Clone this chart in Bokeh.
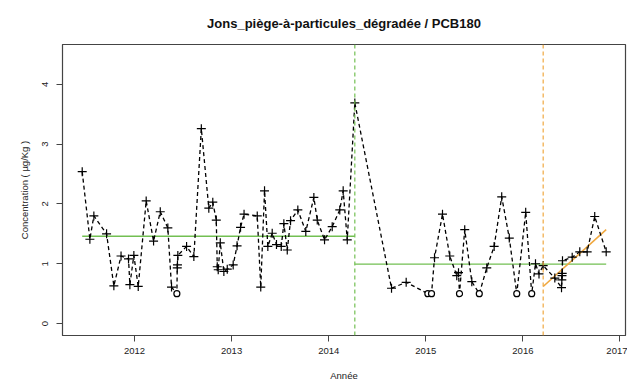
from bokeh.plotting import figure
from bokeh.models import Range1d, FixedTicker, Span, Title
from bokeh.embed import file_html
from bokeh.resources import INLINE

# ---- data ----
dates = [2011.461, 2011.540, 2011.581, 2011.712, 2011.787, 2011.861, 2011.938, 2011.952,
         2011.993, 2012.038, 2012.120, 2012.196, 2012.265, 2012.343, 2012.381, 2012.436,
         2012.440, 2012.442, 2012.446, 2012.536, 2012.611, 2012.688, 2012.765, 2012.806,
         2012.842, 2012.852, 2012.862, 2012.883, 2012.920, 2012.955, 2013.016, 2013.056,
         2013.092, 2013.128, 2013.264, 2013.300, 2013.339, 2013.373, 2013.418, 2013.462,
         2013.511, 2013.538, 2013.573, 2013.607, 2013.682, 2013.764, 2013.847, 2013.882,
         2013.957, 2014.036, 2014.114, 2014.149, 2014.191, 2014.269,
         2014.647, 2014.798, 2015.021, 2015.059, 2015.090, 2015.172, 2015.247, 2015.319,
         2015.337, 2015.347, 2015.401, 2015.474, 2015.551, 2015.628, 2015.704, 2015.782,
         2015.860, 2015.937, 2016.029, 2016.091, 2016.130, 2016.166, 2016.209,
         2016.329, 2016.398, 2016.401, 2016.403, 2016.405, 2016.408, 2016.508, 2016.586,
         2016.662, 2016.740, 2016.858]
values = [2.54, 1.41, 1.80, 1.50, 0.63, 1.13, 1.08, 0.65,
          1.14, 0.62, 2.05, 1.38, 1.87, 1.60, 0.61, 0.50,
          0.93, 0.98, 1.14, 1.29, 1.12, 3.26, 1.93, 2.03,
          1.73, 0.95, 0.90, 1.35, 0.87, 0.91, 0.98, 1.30,
          1.61, 1.83, 1.80, 0.61, 2.22, 1.29, 1.51, 1.32,
          1.29, 1.67, 1.23, 1.72, 1.90, 1.54, 2.11, 1.73,
          1.40, 1.62, 1.90, 2.22, 1.40, 3.69,
          0.59, 0.69, 0.50, 0.50, 1.10, 1.83, 1.13, 0.80,
          0.85, 0.50, 1.57, 0.70, 0.50, 0.93, 1.29, 2.12,
          1.43, 0.50, 1.86, 0.50, 1.00, 0.83, 0.97,
          0.76, 0.60, 0.73, 0.80, 0.84, 1.05, 1.11, 1.20,
          1.20, 1.79, 1.20]
# 1 = below quantification limit (drawn as open circle)
censored = [0, 0, 0, 0, 0, 0, 0, 0,
            0, 0, 0, 0, 0, 0, 0, 1,
            0, 0, 0, 0, 0, 0, 0, 0,
            0, 0, 0, 0, 0, 0, 0, 0,
            0, 0, 0, 0, 0, 0, 0, 0,
            0, 0, 0, 0, 0, 0, 0, 0,
            0, 0, 0, 0, 0, 0,
            0, 0, 1, 1, 0, 0, 0, 0,
            0, 1, 0, 0, 1, 0, 0, 0,
            0, 1, 0, 1, 0, 0, 0,
            0, 0, 0, 0, 0, 0, 0, 0,
            0, 0, 0]

# segment means (green) and final trend (orange)
seg_start = [2011.461, 2014.269]
seg_end = [2014.269, 2016.858]
seg_mean = [1.46, 0.995]
break_green = [2014.269]
break_orange = [2016.209]
trend_x = [2016.209, 2016.858]
trend_y = [0.62, 1.57]

x_ticks = [2012, 2013, 2014, 2015, 2016, 2017]
y_ticks = [0, 1, 2, 3, 4]

title_text = "Jons_piège-à-particules_dégradée / PCB180"
x_label = "Année"
y_label = "Concentration ( µg/Kg )"

FONT = "Liberation Sans"
GREEN = "#72bf52"
ORANGE = "#f0a840"

p = figure(width=627, height=383, output_backend="svg", toolbar_location=None,
           x_range=Range1d(2011.258, 2017.057), y_range=Range1d(-0.2, 4.667),
           min_border_left=62, min_border_right=2, min_border_top=44, min_border_bottom=47)
p.title = Title(text=title_text, align="center", text_font=FONT, text_font_size="13px",
                text_font_style="bold", text_color="#111111", standoff=27)
p.xgrid.visible = False
p.ygrid.visible = False
p.outline_line_color = "#444444"
p.outline_line_width = 1.2
p.background_fill_color = "white"
p.border_fill_color = "white"

for ax in (p.xaxis[0], p.yaxis[0]):
    ax.axis_line_color = "#444444"
    ax.major_tick_line_color = "#444444"
    ax.major_tick_out = 6
    ax.major_tick_in = 0
    ax.minor_tick_line_color = None
    ax.major_label_text_font = FONT
    ax.major_label_text_font_size = "9.5px"
    ax.major_label_text_color = "#222222"
    ax.axis_label_text_font = FONT
    ax.axis_label_text_font_size = "9.5px"
    ax.axis_label_text_font_style = "normal"
    ax.axis_label_text_color = "#222222"

p.xaxis.ticker = FixedTicker(ticks=x_ticks)
p.yaxis.ticker = FixedTicker(ticks=y_ticks)
p.xaxis.axis_label = x_label
p.yaxis.axis_label = y_label
p.xaxis.major_label_standoff = 6
p.xaxis.axis_label_standoff = 13
p.yaxis.major_label_standoff = 8
p.yaxis.axis_label_standoff = 10
p.yaxis.major_label_orientation = "vertical"

# mean segments
for x0, x1, m in zip(seg_start, seg_end, seg_mean):
    p.line([x0, x1], [m, m], line_color=GREEN, line_width=1.3)

# break lines
for b in break_green:
    p.add_layout(Span(location=b, dimension="height", line_color=GREEN,
                      line_dash="4 3", line_width=1.2))
for b in break_orange:
    p.add_layout(Span(location=b, dimension="height", line_color=ORANGE,
                      line_dash="4 3", line_width=1.2))

# trend
p.line(trend_x, trend_y, line_color=ORANGE, line_width=1.6)

# series
p.line(dates, values, line_color="black", line_dash="4 3", line_width=1.3)
qx = [d for d, c in zip(dates, censored) if not c]
qy = [v for v, c in zip(values, censored) if not c]
cx = [d for d, c in zip(dates, censored) if c]
cy = [v for v, c in zip(values, censored) if c]
p.scatter(qx, qy, marker="cross", size=9, line_color="black", line_width=1.2)
p.scatter(cx, cy, marker="circle", size=6, line_color="black", fill_color="white",
          line_width=1.2)

open("out.html", "w").write(file_html(p, INLINE))
